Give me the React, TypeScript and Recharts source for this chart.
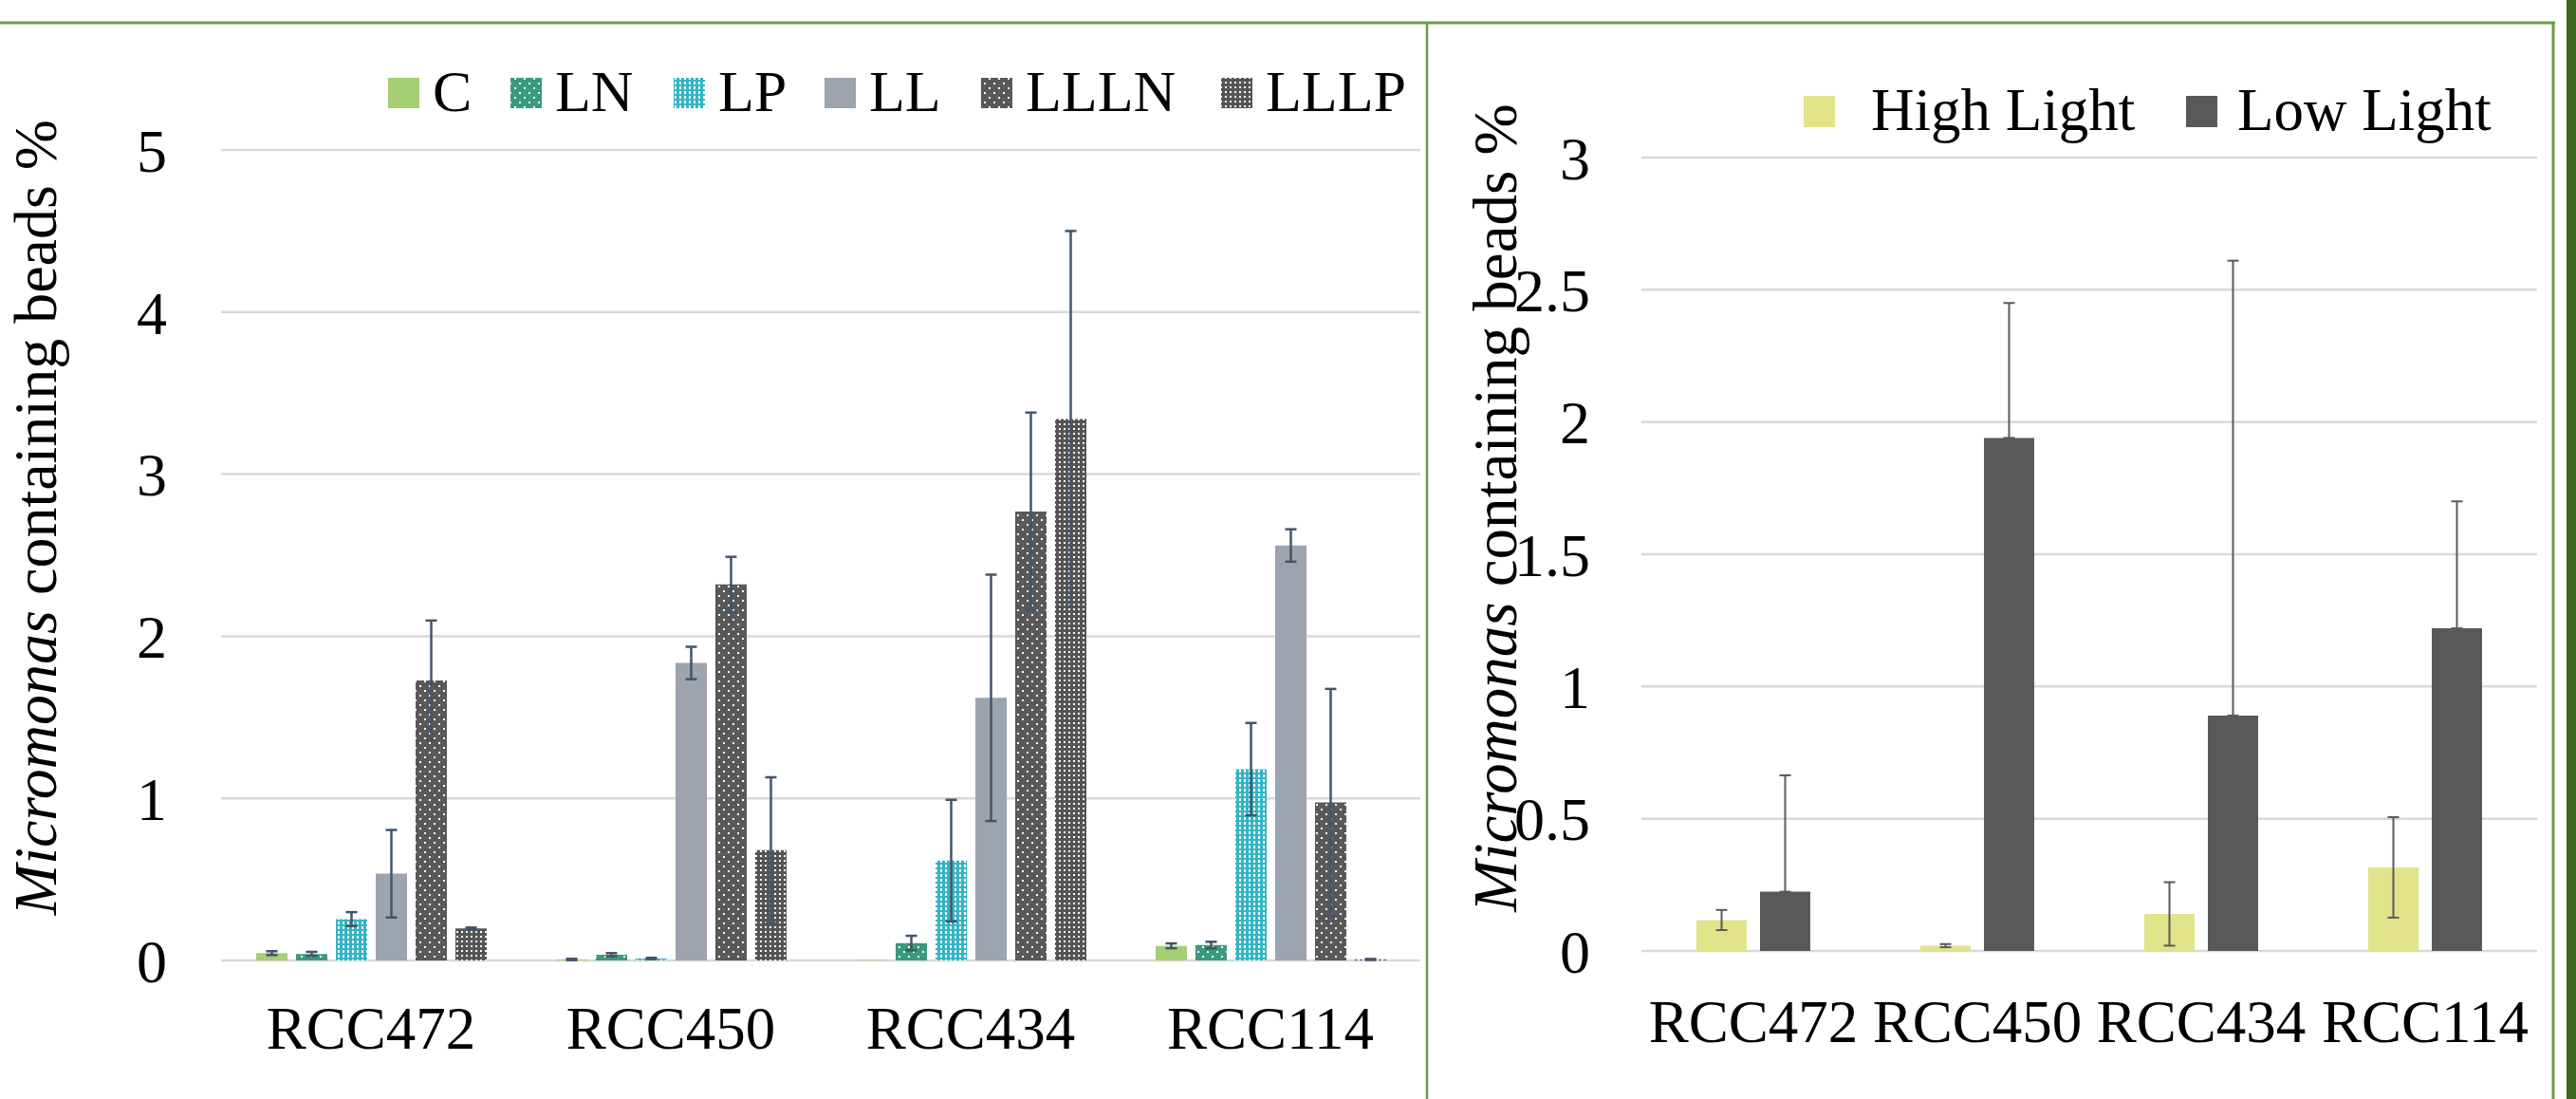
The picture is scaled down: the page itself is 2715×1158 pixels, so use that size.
import React from 'react';
import { BarChart, Bar, XAxis, YAxis, CartesianGrid, ErrorBar } from 'recharts';

const strains = ['RCC472', 'RCC450', 'RCC434', 'RCC114'];

// left panel – treatments
const cVals = [0.045, 0.006, 0.003, 0.09];
const cErr = [0.012, 0.004, 0, 0.015];
const lnVals = [0.04, 0.035, 0.107, 0.095];
const lnErr = [0.013, 0.01, 0.045, 0.02];
const lpVals = [0.255, 0.012, 0.616, 1.18];
const lpErr = [0.043, 0.004, 0.375, 0.285];
const llVals = [0.535, 1.835, 1.62, 2.56];
const llErr = [0.27, 0.1, 0.76, 0.1];
const lllnVals = [1.727, 2.32, 2.77, 0.975];
const lllnErr = [0.37, 0.17, 0.61, 0.7];
const lllpVals = [0.198, 0.68, 3.34, 0.006];
const lllpErr = [0.005, 0.45, 1.16, 0.003];
const leftTicks = [0, 1, 2, 3, 4, 5];

// right panel – light levels
const highVals = [0.117, 0.02, 0.14, 0.316];
const highErr = [0.038, 0.006, 0.12, 0.19];
const lowVals = [0.224, 1.94, 0.89, 1.22];
const lowErrUp = [0.44, 0.51, 1.72, 0.48];
const rightTicks = [0, 0.5, 1, 1.5, 2, 2.5, 3];

const FONT = "'Liberation Serif', 'Times New Roman', serif";

const leftSeries = [
  { key: 'C', vals: cVals, err: cErr, fill: '#A4D073' },
  { key: 'LN', vals: lnVals, err: lnErr, fill: 'url(#pLN)' },
  { key: 'LP', vals: lpVals, err: lpErr, fill: 'url(#pLP)' },
  { key: 'LL', vals: llVals, err: llErr, fill: '#9DA3AF' },
  { key: 'LLLN', vals: lllnVals, err: lllnErr, fill: 'url(#pLLLN)' },
  { key: 'LLLP', vals: lllpVals, err: lllpErr, fill: 'url(#pLLLP)' },
];

const leftData = strains.map((name, i) => {
  const row: any = { name };
  leftSeries.forEach((s) => {
    row[s.key] = s.vals[i];
    row[s.key + 'Err'] = s.err[i];
  });
  return row;
});

const rightData = strains.map((name, i) => ({
  name,
  high: highVals[i],
  highErr: highErr[i],
  low: lowVals[i],
  lowErr: [0, lowErrUp[i]],
}));

// legend placement (px)
const leftLegendX = [409, 538, 710, 869, 1034, 1287];
const rightLegend = [
  { label: 'High Light', fill: '#E1E48B', x: 1901, tx: 1972 },
  { label: 'Low Light', fill: '#595959', x: 2304, tx: 2358 },
];

const Patterns = () => (
  <svg width={0} height={0} style={{ position: 'absolute', left: 0, top: 0 }}>
    <defs>
      <pattern id="pLN" width={10} height={10} patternUnits="userSpaceOnUse">
        <rect width={10} height={10} fill="#3A9A7E" />
        <rect x={2} y={2} width={2} height={2} fill="#fff" />
        <rect x={7} y={7} width={2} height={2} fill="#fff" />
      </pattern>
      <pattern id="pLLLN" width={10} height={10} patternUnits="userSpaceOnUse">
        <rect width={10} height={10} fill="#595959" />
        <rect x={2} y={2} width={2} height={2} fill="#fff" />
        <rect x={7} y={7} width={2} height={2} fill="#fff" />
      </pattern>
      <pattern id="pLP" width={5} height={5} patternUnits="userSpaceOnUse">
        <rect width={5} height={5} fill="#33B5C5" />
        <rect x={1} y={1} width={2} height={3} fill="#fff" />
      </pattern>
      <pattern id="pLLLP" width={5} height={5} patternUnits="userSpaceOnUse">
        <rect width={5} height={5} fill="#555555" />
        <rect x={1} y={1} width={2} height={2} fill="#fff" />
      </pattern>
    </defs>
  </svg>
);

const tickStyle = { fontSize: 63, fill: '#000', fontFamily: FONT };

function LeftChart() {
  return (
    <BarChart
      width={1503}
      height={1158}
      data={leftData}
      margin={{ top: 158, right: 6, bottom: 46, left: 0 }}
      barSize={33}
      barGap={9}
    >
      <CartesianGrid vertical={false} stroke="#D9D9D9" strokeWidth={2.5} />
      <XAxis
        dataKey="name"
        height={100}
        axisLine={false}
        tickLine={false}
        tickSize={0}
        tickMargin={48}
        tick={tickStyle}
      />
      <YAxis
        width={233}
        domain={[0, 5]}
        ticks={leftTicks}
        axisLine={false}
        tickLine={false}
        tickSize={0}
        tickMargin={57}
        tick={{ ...tickStyle, fontSize: 64 }}
      />
      {leftSeries.map((s) => (
        <Bar key={s.key} dataKey={s.key} fill={s.fill} isAnimationActive={false}>
          <ErrorBar
            dataKey={s.key + 'Err'}
            direction="y"
            width={6}
            stroke="#44546A"
            strokeWidth={2.5}
            isAnimationActive={false}
          />
        </Bar>
      ))}
    </BarChart>
  );
}

function RightChart() {
  return (
    <BarChart
      width={1212}
      height={1158}
      data={rightData}
      margin={{ top: 166, right: 41, bottom: 56, left: 0 }}
      barSize={53}
      barGap={14}
    >
      <CartesianGrid vertical={false} stroke="#D9D9D9" strokeWidth={2.5} />
      <XAxis
        dataKey="name"
        height={100}
        axisLine={false}
        tickLine={false}
        tickSize={0}
        tickMargin={51}
        tick={tickStyle}
      />
      <YAxis
        width={227}
        domain={[0, 3]}
        ticks={rightTicks}
        axisLine={false}
        tickLine={false}
        tickSize={0}
        tickMargin={54}
        tick={{ ...tickStyle, fontSize: 64 }}
      />
      <Bar dataKey="high" fill="#E1E48B" isAnimationActive={false}>
        <ErrorBar dataKey="highErr" direction="y" width={6} stroke="#5A5A5A" strokeWidth={2} isAnimationActive={false} />
      </Bar>
      <Bar dataKey="low" fill="#595959" isAnimationActive={false}>
        <ErrorBar dataKey="lowErr" direction="y" width={6} stroke="#5A5A5A" strokeWidth={2} isAnimationActive={false} />
      </Bar>
    </BarChart>
  );
}

function Overlay() {
  return (
    <svg
      width={2715}
      height={1158}
      style={{ position: 'absolute', left: 0, top: 0, pointerEvents: 'none' }}
      fontFamily={FONT}
    >
      {/* frame */}
      <line x1={0} y1={24} x2={2693} y2={24} stroke="#6A9B45" strokeWidth={3} />
      <line x1={1504} y1={24} x2={1504} y2={1158} stroke="#6A9B45" strokeWidth={2.5} />
      <line x1={2691} y1={24} x2={2691} y2={1158} stroke="#6A9B45" strokeWidth={3} />
      <rect x={2705} y={0} width={10} height={1158} fill="#3B6B22" />

      {/* axis titles */}
      <text transform="translate(59,545) rotate(-90)" textAnchor="middle" fontSize={64} fill="#000">
        <tspan fontStyle="italic">Micromonas</tspan> containing beads %
      </text>
      <text transform="translate(1598,535) rotate(-90)" textAnchor="middle" fontSize={65} fill="#000">
        <tspan fontStyle="italic">Micromonas</tspan> containing beads %
      </text>

      {/* left legend */}
      {leftSeries.map((s, i) => (
        <g key={s.key}>
          <rect x={leftLegendX[i]} y={82} width={33} height={32} fill={s.fill} />
          <text x={leftLegendX[i] + 47} y={117} fontSize={62} fill="#000">
            {s.key}
          </text>
        </g>
      ))}

      {/* right legend */}
      {rightLegend.map((l) => (
        <g key={l.label}>
          <rect x={l.x} y={101} width={33} height={33} fill={l.fill} />
          <text x={l.tx} y={137} fontSize={63} fill="#000">
            {l.label}
          </text>
        </g>
      ))}
    </svg>
  );
}

export default function App() {
  return (
    <div
      style={{
        position: 'absolute',
        left: 0,
        top: 0,
        width: 2715,
        height: 1158,
        background: '#fff',
        fontFamily: FONT,
        overflow: 'hidden',
      }}
    >
      <Patterns />
      <div style={{ position: 'absolute', left: 0, top: 0 }}>
        <LeftChart />
      </div>
      <div style={{ position: 'absolute', left: 1503, top: 0 }}>
        <RightChart />
      </div>
      <Overlay />
    </div>
  );
}
